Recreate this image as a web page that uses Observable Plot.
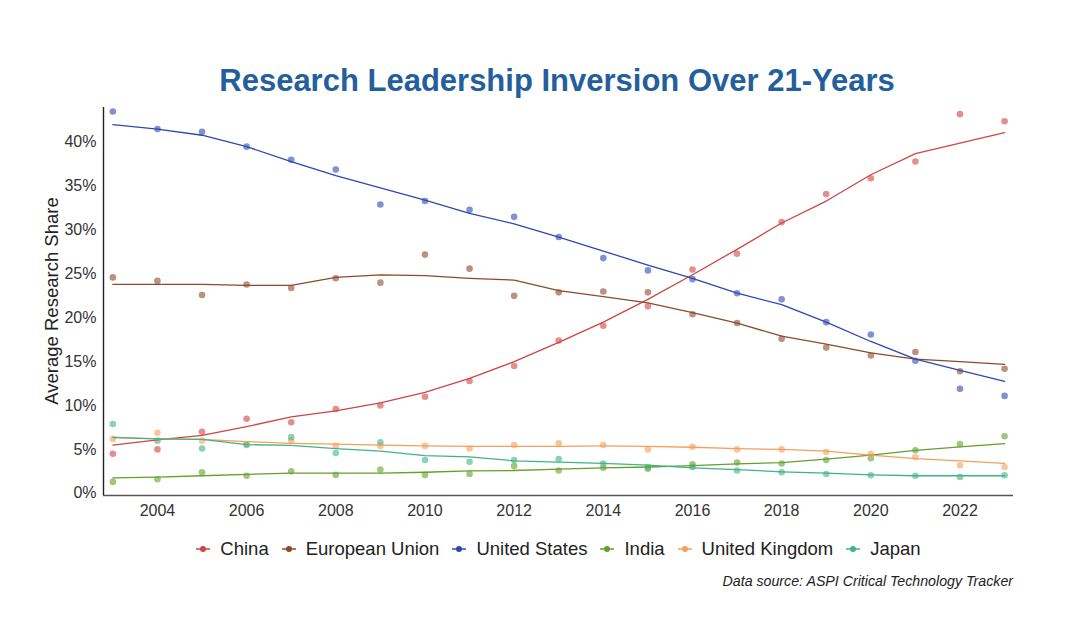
<!DOCTYPE html>
<html><head><meta charset="utf-8">
<script src="https://cdn.jsdelivr.net/npm/d3@7"></script>
<script src="https://cdn.jsdelivr.net/npm/@observablehq/plot@0.6"></script>
<style>
body{margin:0;background:#fff;font-family:"Liberation Sans",Arial,sans-serif;width:1078px;height:636px;overflow:hidden;position:relative;}
#title{position:absolute;left:18px;width:1078px;top:63px;text-align:center;font-weight:bold;font-size:31px;color:#245f9c;line-height:36px;}
#chart{position:absolute;left:0;top:100px;}
#ylabel{position:absolute;left:52px;top:301px;transform:translate(-50%,-50%) rotate(-90deg);font-size:18.5px;color:#222;white-space:nowrap;}
#legend{position:absolute;top:538px;left:19px;width:1078px;display:flex;justify-content:center;align-items:center;font-size:18.5px;color:#222;}
#legend .item{display:flex;align-items:center;margin:0 6px;}
#legend svg{margin-right:9px;}
#caption{position:absolute;right:65px;top:573px;font-style:italic;font-size:14.2px;color:#222;}
</style></head>
<body>
<div id="title">Research Leadership Inversion Over 21-Years</div>
<div id="chart"></div>
<div id="ylabel">Average Research Share</div>
<div id="legend"></div>
<div id="caption">Data source: ASPI Critical Technology Tracker</div>
<script>
const years = [2003,2004,2005,2006,2007,2008,2009,2010,2011,2012,2013,2014,2015,2016,2017,2018,2019,2020,2021,2022,2023];
const countries = ["China","European Union","United States","India","United Kingdom","Japan"];
const colors = ["#d04444","#8c4a2a","#2e48b0","#64a02a","#f4a05a","#3fb38a"];
const xTicks = [2004,2006,2008,2010,2012,2014,2016,2018,2020,2022];
const yTicks = [0,5,10,15,20,25,30,35,40];

// observed yearly shares (%)
const chinaPts  = [4.5,5.0,7.0,8.5,8.1,9.6,10.0,11.0,12.8,14.5,17.4,19.1,21.3,25.5,27.3,30.9,34.1,35.9,37.8,43.2,42.4];
const euPts     = [24.6,24.2,22.6,23.8,23.4,24.5,24.0,27.2,25.6,22.5,22.9,23.0,22.9,20.4,19.4,17.6,16.6,15.7,16.1,13.9,14.2];
const usPts     = [43.5,41.5,41.2,39.5,38.0,36.9,32.9,33.3,32.3,31.5,29.2,26.8,25.4,24.4,22.8,22.1,19.5,18.1,15.1,11.9,11.1];
const indiaPts  = [1.3,1.6,2.4,2.0,2.5,2.1,2.7,2.1,2.2,3.1,2.6,2.9,2.8,3.3,3.5,3.4,3.8,4.0,4.9,5.6,6.5];
const ukPts     = [6.2,6.9,6.0,5.6,6.0,5.4,5.4,5.4,5.1,5.5,5.7,5.5,5.0,5.3,5.0,5.0,4.7,4.5,4.1,3.2,3.0];
const japanPts  = [7.9,6.0,5.1,5.5,6.4,4.6,5.8,3.8,3.6,3.8,3.9,3.4,3.0,3.0,2.6,2.4,2.2,2.05,2.0,1.85,2.05];

// smoothed trend lines (%)
const chinaFit  = [5.5,6.1,6.6,7.6,8.7,9.4,10.3,11.5,13.1,15.0,17.2,19.5,22.1,24.9,27.8,30.8,33.3,36.3,38.7,39.9,41.1];
const euFit     = [23.8,23.8,23.8,23.7,23.7,24.6,24.9,24.8,24.5,24.3,23.1,22.4,21.7,20.6,19.4,17.9,17.0,16.0,15.3,15.0,14.7];
const usFit     = [42.0,41.5,40.8,39.5,37.8,36.2,34.8,33.4,31.9,30.7,29.2,27.6,26.0,24.5,22.8,21.5,19.5,17.3,15.3,14.0,12.75];
const indiaFit  = [1.75,1.85,2.0,2.15,2.3,2.3,2.3,2.4,2.55,2.6,2.75,2.9,3.0,3.15,3.35,3.5,3.9,4.35,4.9,5.3,5.65];
const ukFit     = [6.4,6.2,6.15,5.9,5.7,5.6,5.5,5.4,5.35,5.35,5.35,5.4,5.35,5.25,5.1,5.0,4.8,4.35,3.95,3.7,3.4];
const japanFit  = [6.35,6.2,6.15,5.55,5.45,5.1,4.8,4.3,4.15,3.7,3.55,3.4,3.2,2.9,2.7,2.45,2.3,2.1,2.0,2.0,2.0];

const ptsSeries = [chinaPts,euPts,usPts,indiaPts,ukPts,japanPts];
const fitSeries = [chinaFit,euFit,usFit,indiaFit,ukFit,japanFit];

const pts = [], fit = [];
countries.forEach((c,i)=>{
  years.forEach((y,j)=>{
    pts.push({country:c, year:y, value:ptsSeries[i][j]});
    fit.push({country:c, year:y, value:fitSeries[i][j]});
  });
});

const xDomain = [2002.79, 2023.2];
const yDomain = [-0.25, 43.96];

const chart = Plot.plot({
  width:1078, height:425,
  marginTop:7, marginBottom:30, marginLeft:103, marginRight:65,
  style:{fontFamily:"Liberation Sans, Arial, sans-serif", fontSize:"16px", color:"#333", background:"#fff"},
  x:{domain:xDomain, ticks:xTicks, tickFormat:d=>String(d), tickSize:0, tickPadding:9, label:null},
  y:{domain:yDomain, ticks:yTicks, tickFormat:d=>d+"%", tickSize:0, tickPadding:7, label:null},
  color:{domain:countries, range:colors},
  marks:[
    Plot.dot(pts, {x:"year", y:"value", fill:"country", r:3.3, fillOpacity:0.6, stroke:null}),
    Plot.line(fit, {x:"year", y:"value", z:"country", stroke:"country", strokeWidth:1.3}),
    Plot.ruleY([yDomain[0]], {stroke:"#555", strokeWidth:1.6}),
    Plot.ruleX([xDomain[0]], {stroke:"#222", strokeWidth:1.4})
  ]
});
document.getElementById("chart").appendChild(chart);

const legend = document.getElementById("legend");
countries.forEach((c,i)=>{
  const item = document.createElement("div");
  item.className = "item";
  item.innerHTML = `<svg width="16" height="10"><line x1="1" x2="15" y1="5" y2="5" stroke="${colors[i]}" stroke-width="1.5"/><circle cx="8" cy="5" r="3" fill="${colors[i]}"/></svg><span>${c}</span>`;
  legend.appendChild(item);
});
</script>
</body></html>
